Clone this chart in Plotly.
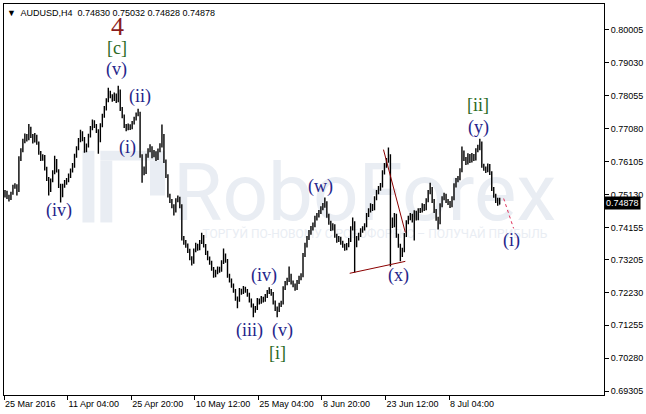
import plotly.graph_objects as go

# ---------------- data (prices in pips, i.e. price x 10^4) ----------------
open_pips = [
7510,7519,7507,7501,7516,7536,7539,7525,7619,7643,
7672,7687,7678,7708,7687,7672,7687,7666,7637,7619,
7625,7590,7560,7525,7554,7578,7613,7584,7539,7510,
7539,7548,7554,7569,7584,7598,7628,7649,7672,7696,
7678,7643,7657,7687,7708,7717,7717,7702,7672,7717,
7746,7767,7791,7814,7805,7796,7808,7791,7820,7767,
7746,7717,7708,7717,7711,7725,7737,7749,7755,7628,
7590,7578,7628,7643,7652,7628,7637,7619,7643,7657,
7687,7613,7569,7510,7495,7480,7465,7495,7501,7480,
7383,7371,7362,7347,7324,7312,7347,7362,7353,7371,
7389,7362,7341,7324,7312,7294,7273,7282,7294,7288,
7312,7333,7318,7273,7259,7244,7229,7205,7200,7229,
7223,7235,7229,7217,7200,7185,7170,7176,7200,7194,
7205,7200,7211,7223,7229,7220,7194,7176,7170,7185,
7191,7235,7250,7259,7273,7253,7244,7235,7253,7265,
7273,7333,7362,7383,7400,7412,7421,7442,7451,7460,
7471,7480,7489,7451,7430,7412,7421,7392,7377,7383,
7371,7362,7353,7362,7377,7412,7430,7362,7383,7392,
7406,7412,7421,7451,7465,7480,7471,7501,7519,7530,
7539,7578,7598,7613,7628,7436,7421,7451,7392,7362,
7333,7347,7392,7430,7442,7451,7436,7460,7442,7465,
7465,7480,7471,7495,7519,7530,7495,7465,7442,7430,
7480,7501,7510,7495,7489,7480,7501,7539,7554,7560,
7584,7637,7619,7607,7628,7613,7628,7619,7643,7649,
7666,7598,7590,7584,7598,7578,7530,7510,7495,7483]

high_pips = [
7526,7524,7512,7521,7542,7546,7543,7626,7650,7678,
7694,7692,7722,7714,7692,7695,7690,7670,7642,7632,
7630,7595,7565,7560,7585,7628,7618,7588,7545,7545,
7556,7562,7575,7590,7606,7634,7656,7680,7705,7700,
7683,7664,7693,7716,7735,7733,7722,7706,7724,7752,
7775,7798,7829,7820,7810,7815,7812,7835,7824,7772,
7750,7722,7723,7721,7731,7743,7756,7767,7758,7632,
7596,7634,7650,7662,7656,7645,7641,7649,7665,7720,
7692,7617,7573,7515,7500,7484,7502,7510,7506,7484,
7390,7378,7368,7352,7330,7353,7370,7367,7378,7400,
7393,7366,7346,7329,7317,7298,7290,7300,7299,7318,
7353,7338,7322,7278,7264,7249,7233,7211,7236,7234,
7242,7240,7233,7222,7205,7190,7183,7206,7205,7212,
7210,7218,7230,7238,7233,7224,7199,7181,7192,7198,
7241,7257,7266,7300,7278,7258,7249,7260,7272,7280,
7340,7370,7390,7408,7420,7430,7450,7458,7467,7478,
7488,7504,7493,7456,7435,7428,7425,7397,7390,7388,
7376,7367,7369,7384,7419,7445,7434,7390,7400,7413,
7419,7428,7458,7472,7487,7485,7508,7526,7538,7547,
7585,7606,7621,7652,7632,7445,7458,7456,7397,7367,
7355,7399,7437,7450,7458,7456,7466,7465,7472,7473,
7487,7485,7502,7526,7548,7535,7500,7470,7447,7487,
7508,7518,7515,7500,7494,7508,7546,7562,7568,7591,
7655,7643,7624,7635,7633,7636,7633,7650,7660,7678,
7670,7604,7596,7605,7603,7582,7535,7515,7503,7503]

low_pips = [
7504,7500,7492,7497,7512,7530,7510,7520,7612,7638,
7665,7670,7674,7680,7664,7667,7660,7631,7612,7613,
7584,7553,7510,7520,7549,7573,7578,7532,7489,7505,
7533,7542,7549,7562,7578,7592,7622,7644,7668,7671,
7637,7638,7652,7682,7703,7710,7695,7634,7668,7712,
7740,7762,7786,7798,7788,7790,7784,7786,7760,7739,
7710,7700,7703,7704,7706,7720,7732,7745,7622,7548,
7570,7574,7622,7638,7620,7623,7612,7615,7638,7652,
7606,7562,7504,7488,7472,7451,7460,7490,7472,7377,
7364,7355,7340,7318,7303,7308,7342,7346,7348,7366,
7356,7334,7318,7305,7287,7266,7268,7277,7281,7284,
7307,7311,7266,7252,7237,7222,7198,7176,7195,7216,
7218,7222,7210,7193,7178,7149,7163,7171,7187,7189,
7193,7195,7206,7218,7213,7187,7168,7149,7165,7180,
7187,7230,7244,7254,7246,7238,7228,7230,7248,7259,
7268,7328,7356,7378,7394,7406,7416,7436,7445,7455,
7466,7474,7444,7423,7405,7406,7385,7370,7372,7364,
7355,7346,7348,7357,7372,7406,7282,7357,7377,7387,
7400,7406,7416,7446,7460,7464,7466,7496,7514,7524,
7534,7572,7592,7607,7300,7414,7416,7385,7355,7315,
7328,7342,7387,7425,7437,7430,7377,7436,7437,7458,
7460,7464,7466,7490,7514,7488,7458,7435,7409,7425,
7475,7496,7488,7482,7473,7475,7496,7534,7549,7555,
7579,7612,7600,7602,7606,7608,7612,7614,7638,7644,
7592,7583,7577,7579,7571,7523,7503,7488,7480,7483]

close_pips = [
7519,7507,7501,7516,7536,7539,7525,7619,7643,7672,
7687,7678,7708,7687,7672,7687,7666,7637,7619,7625,
7590,7560,7525,7554,7578,7613,7584,7539,7510,7539,
7548,7554,7569,7584,7598,7628,7649,7672,7696,7678,
7643,7657,7687,7708,7717,7717,7702,7672,7717,7746,
7767,7791,7814,7805,7796,7808,7791,7820,7767,7746,
7717,7708,7717,7711,7725,7737,7749,7755,7628,7590,
7578,7628,7643,7652,7628,7637,7619,7643,7657,7687,
7613,7569,7510,7495,7480,7465,7495,7501,7480,7383,
7371,7362,7347,7324,7312,7347,7362,7353,7371,7389,
7362,7341,7324,7312,7294,7273,7282,7294,7288,7312,
7333,7318,7273,7259,7244,7229,7205,7200,7229,7223,
7235,7229,7217,7200,7185,7170,7176,7200,7194,7205,
7200,7211,7223,7229,7220,7194,7176,7170,7185,7191,
7235,7250,7259,7273,7253,7244,7235,7253,7265,7273,
7333,7362,7383,7400,7412,7421,7442,7451,7460,7471,
7480,7489,7451,7430,7412,7421,7392,7377,7383,7371,
7362,7353,7362,7377,7412,7430,7362,7383,7392,7406,
7412,7421,7451,7465,7480,7471,7501,7519,7530,7539,
7578,7598,7613,7628,7436,7421,7451,7392,7362,7333,
7347,7392,7430,7442,7451,7436,7460,7442,7465,7465,
7480,7471,7495,7519,7530,7495,7465,7442,7430,7480,
7501,7510,7495,7489,7480,7501,7539,7554,7560,7584,
7637,7619,7607,7628,7613,7628,7619,7643,7649,7666,
7598,7590,7584,7598,7578,7530,7510,7495,7483,7488]

# time axis (bar index of each label) and labels
x_label_bars = [-0.5, 31.5, 63.5, 95.5, 127.5, 159.5, 191.5, 223.5]
x_labels = ["25 Mar 2016", "11 Apr 04:00", "25 Apr 20:00", "10 May 12:00",
            "25 May 04:00", "8 Jun 20:00", "23 Jun 12:00", "8 Jul 04:00"]

y_ticks = [0.80005, 0.79030, 0.78055, 0.77080, 0.76105, 0.75130,
           0.74155, 0.73205, 0.72230, 0.71255, 0.70280, 0.69305]
y_tick_text = ["0.80005", "0.79030", "0.78055", "0.77080", "0.76105", "0.75130",
               "0.74155", "0.73205", "0.72230", "0.71255", "0.70280", "0.69305"]

last_price = 0.74878
title_text = "▼  AUDUSD,H4  0.74830 0.75032 0.74828 0.74878"

# wave labels: text, bar index, price, colour group
wave_text  = ["4", "[c]", "(v)", "(ii)", "(i)", "(iv)", "(w)", "(iv)", "(iii)", "(v)",
              "[i]", "(x)", "[ii]", "(y)", "(i)"]
wave_bar   = [56.5, 56.5, 56, 68, 61.5, 27, 159, 130.5, 123, 139.5,
              137, 198, 238, 238.5, 255]
wave_price = [0.80095, 0.79473, 0.78823, 0.78025, 0.76518, 0.74657, 0.75366, 0.72736,
              0.71111, 0.71111, 0.70431, 0.72736, 0.77789, 0.77109, 0.73770]
wave_kind  = ["red", "green", "blue", "blue", "blue", "blue", "blue", "blue", "blue", "blue",
              "green", "blue", "green", "blue", "blue"]

# trend lines (bar index, price)
upper_line_bar = [190.5, 201.5]
upper_line_price = [0.76459, 0.74006]
lower_line_bar = [173.5, 201.5]
lower_line_price = [0.72795, 0.73149]
forecast_bar = [251, 256]
forecast_price = [0.75011, 0.74125]

# ---------------- figure ----------------
bars = list(range(len(close_pips)))
scale = 10000.0

fig = go.Figure()
fig.add_trace(go.Ohlc(
    x=bars,
    open=[v / scale for v in open_pips],
    high=[v / scale for v in high_pips],
    low=[v / scale for v in low_pips],
    close=[v / scale for v in close_pips],
    increasing=dict(line=dict(color="black", width=1.4)),
    decreasing=dict(line=dict(color="black", width=1.4)),
    tickwidth=0.2, showlegend=False, hoverinfo="skip"))

fig.add_trace(go.Scatter(x=upper_line_bar, y=upper_line_price, mode="lines",
                         line=dict(color="#8b0000", width=1), showlegend=False, hoverinfo="skip"))
fig.add_trace(go.Scatter(x=lower_line_bar, y=lower_line_price, mode="lines",
                         line=dict(color="#8b0000", width=1), showlegend=False, hoverinfo="skip"))
fig.add_trace(go.Scatter(x=forecast_bar, y=forecast_price, mode="lines",
                         line=dict(color="#e0305a", width=1, dash="dot"), showlegend=False,
                         hoverinfo="skip"))

colours = {"blue": "#25258a", "green": "#2b6a1f", "red": "#8b1c1c"}
sizes = {"blue": 18, "green": 18, "red": 26}
annotations = []
for t, b, p, k in zip(wave_text, wave_bar, wave_price, wave_kind):
    annotations.append(dict(x=b, y=p, xref="x", yref="y", text=t, showarrow=False,
                            font=dict(family="Liberation Serif", size=sizes[k], color=colours[k]),
                            xanchor="center", yanchor="middle"))

annotations.append(dict(x=0.002, y=0.977, xref="paper", yref="paper", text=title_text,
                        showarrow=False, xanchor="left", yanchor="middle",
                        font=dict(family="Liberation Sans", size=9, color="black")))
annotations.append(dict(x=1, y=last_price, xref="paper", yref="y", text="0.74878",
                        showarrow=False, xanchor="left", yanchor="middle", bgcolor="black",
                        borderpad=1, xshift=0,
                        font=dict(family="Liberation Sans", size=9, color="white")))

# watermark (behind the bars)
def px_x(p):
    return (p - 3) / 604.0

def px_y(y):
    return 1 - (y - 3) / 392.0

wm = "#e9edf3"
shapes = [
    dict(type="rect", xref="paper", yref="paper", x0=px_x(172), x1=px_x(560),
         y0=px_y(232), y1=px_y(140), line=dict(width=0), fillcolor="rgba(0,0,0,0)",
         layer="below",
         label=dict(text="RoboForex", textposition="middle center",
                    font=dict(family="Roboto", size=80, color=wm))),
    dict(type="rect", xref="paper", yref="paper", x0=px_x(200), x1=px_x(556),
         y0=px_y(240), y1=px_y(226), line=dict(width=0), fillcolor="rgba(0,0,0,0)",
         layer="below",
         label=dict(text="ТОРГУЙ ПО-НОВОМУ С РОБОФОРЕКС – ПОЛУЧАЙ ПРИБЫЛЬ",
                    textposition="middle right",
                    font=dict(family="Roboto", size=12, color=wm))),
    dict(type="rect", xref="paper", yref="paper", x0=px_x(82), x1=px_x(94),
         y0=px_y(222), y1=px_y(150), line=dict(width=0), fillcolor=wm, layer="below"),
    dict(type="rect", xref="paper", yref="paper", x0=px_x(100), x1=px_x(165),
         y0=px_y(160), y1=px_y(150), line=dict(width=0), fillcolor=wm, layer="below"),
    dict(type="rect", xref="paper", yref="paper", x0=px_x(100), x1=px_x(112),
         y0=px_y(222), y1=px_y(160), line=dict(width=0), fillcolor=wm, layer="below"),
    dict(type="rect", xref="paper", yref="paper", x0=px_x(150), x1=px_x(165),
         y0=px_y(195), y1=px_y(160), line=dict(width=0), fillcolor=wm, layer="below"),
]

fig.update_layout(
    width=646, height=414,
    margin=dict(l=3, r=39, t=3, b=19),
    paper_bgcolor="white", plot_bgcolor="white",
    font=dict(family="Liberation Sans", size=9, color="black"),
    annotations=annotations, shapes=shapes, showlegend=False,
    xaxis=dict(range=[-0.5, 301.5], showgrid=False, zeroline=False,
               showline=True, linecolor="black", linewidth=1, mirror=True,
               ticks="outside", ticklen=4, tickcolor="black", tickwidth=1,
               tickvals=x_label_bars, ticktext=x_labels,
               ticklabelposition="outside right",
               rangeslider=dict(visible=False), fixedrange=True,
               tickfont=dict(family="Liberation Sans", size=9, color="black")),
    yaxis=dict(range=[0.69190, 0.80773], side="right", showgrid=False, zeroline=False,
               showline=True, linecolor="black", linewidth=1, mirror=True,
               ticks="outside", ticklen=4, tickcolor="black", tickwidth=1,
               tickvals=y_ticks, ticktext=y_tick_text, fixedrange=True,
               tickfont=dict(family="Liberation Sans", size=9, color="black")),
)

fig.write_html("out.html", config={"displayModeBar": False},
               post_script="document.body.style.margin='0';"
                           "document.documentElement.style.overflow='hidden';")
